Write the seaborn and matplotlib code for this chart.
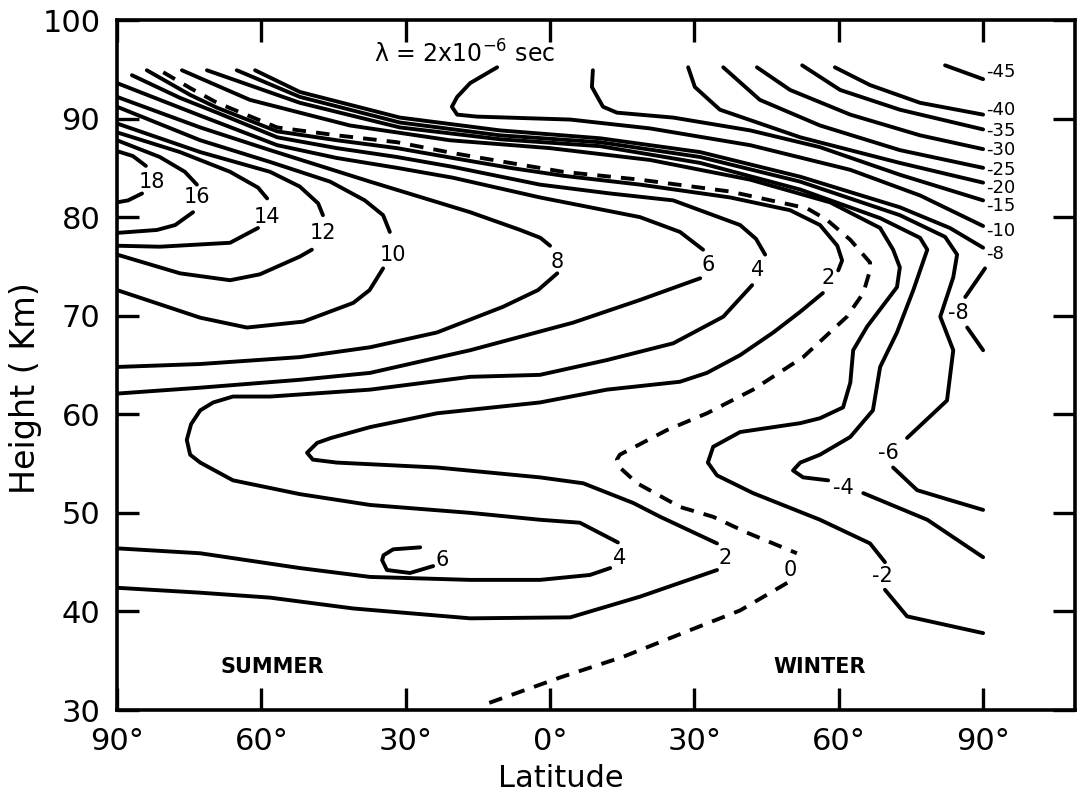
import matplotlib
matplotlib.use("Agg")
import matplotlib.pyplot as plt
import pandas as pd
import seaborn as sns

# ---------------- data: contour lines as (latitude, height km) ----------------
# latitude: negative = summer hemisphere, positive = winter hemisphere
C18 = [[(-90, 86.7), (-86.7, 86.2), (-84.0, 85.2)],
       [(-84.8, 82.4), (-87.7, 81.7), (-90, 81.5)]]
C16 = [[(-90, 87.8), (-81.1, 86.1), (-75.9, 84.6), (-73.4, 83.3)],
       [(-74.2, 80.5), (-77.9, 79.2), (-81.7, 78.7), (-90, 78.4)]]
C14 = [[(-90, 88.6), (-76.9, 86.6), (-66.5, 84.6), (-60.7, 83.0), (-58.8, 81.9)],
       [(-60.7, 78.9), (-66.5, 77.4), (-81.1, 77.0), (-90, 77.1)]]
C12 = [[(-90, 89.5), (-72.7, 86.6), (-58.2, 84.6), (-52.0, 83.1), (-48.2, 81.4), (-47.2, 80.2)],
       [(-49.5, 76.7), (-52.0, 76.0), (-60.3, 74.2), (-66.5, 73.6), (-76.9, 74.3), (-90, 76.2)]]
C10 = [[(-90, 91.2), (-72.7, 87.8), (-58.2, 85.6), (-45.7, 83.6), (-38.5, 81.7), (-34.7, 80.2), (-33.3, 78.5)],
       [(-34.7, 74.8), (-37.5, 72.6), (-40.9, 71.3), (-51.3, 69.4), (-63.0, 68.8), (-72.7, 69.8), (-90, 72.6)]]
C8 = [[(-90, 92.2), (-72.7, 89.1), (-58.2, 86.8), (-37.4, 83.6), (-16.6, 80.5), (-6.2, 78.7), (-2.0, 77.9),
       (0, 77.1)],
      [(1.5, 74.3), (-2.5, 72.6), (-9.8, 70.9), (-23.5, 68.3), (-37.4, 66.8), (-52.0, 65.8), (-72.7, 65.1),
       (-90, 64.8)]]
C6 = [[(-90, 93.6), (-72.7, 90.3), (-56.7, 87.3), (-44.3, 86.0), (-31.8, 85.0), (-20.2, 84.0), (-2.1, 82.0),
       (18.7, 80.0), (27.0, 78.5), (31.8, 76.7)],
      [(31.2, 73.8), (18.7, 71.6), (4.8, 69.3), (-16.6, 66.5), (-37.4, 64.2), (-52.0, 63.5), (-72.7, 62.7),
       (-90, 62.1)]]
C6_LOOP = [[(-27.0, 46.5), (-32.6, 46.3), (-34.6, 45.7), (-34.9, 45.2), (-33.9, 44.2), (-29.1, 43.9),
            (-24.3, 44.6)]]
C4 = [[(-86.9, 94.4), (-76.9, 92.1), (-69.2, 90.6), (-56.7, 88.1), (-44.3, 87.0), (-31.8, 86.1), (-20.2, 85.1),
       (-2.1, 83.3), (12.5, 82.4), (25.6, 81.7), (39.5, 79.2), (42.8, 77.8), (44.7, 76.2)],
      [(42.0, 73.1), (36.0, 69.9), (25.6, 67.2), (11.8, 65.5), (-2.1, 64.0), (-16.6, 63.8), (-37.4, 62.5),
       (-58.2, 61.8), (-65.9, 61.8), (-70.0, 61.2), (-72.7, 60.4), (-74.6, 59.0), (-75.5, 57.4), (-74.8, 55.9),
       (-72.7, 55.1), (-65.9, 53.3), (-52.0, 51.9), (-37.4, 50.8), (-16.6, 50.0), (-2.1, 49.3), (6.2, 49.0),
       (14.1, 47.0)],
      [(12.5, 44.4), (8.3, 43.7), (-2.1, 43.2), (-16.6, 43.2), (-37.4, 43.5), (-52.0, 44.4), (-72.7, 45.9),
       (-90, 46.4)]]
C2 = [[(-83.8, 94.9), (-74.8, 92.4), (-69.2, 91.1), (-56.7, 88.7), (-44.3, 87.8), (-31.8, 87.0), (-20.2, 86.0),
       (-8.3, 85.0), (2.7, 84.2), (18.7, 83.3), (37.4, 82.0), (49.9, 80.7), (56.1, 79.2), (59.7, 77.1),
       (60.7, 75.6), (59.9, 74.6)],
      [(56.7, 72.3), (52.0, 70.4), (46.4, 68.3), (39.5, 66.0), (32.6, 64.2), (27.0, 63.3), (11.8, 62.5),
       (-2.1, 61.2), (-23.5, 60.1), (-37.4, 58.7), (-45.5, 57.6), (-48.4, 57.1), (-50.5, 56.1), (-49.3, 55.4),
       (-44.3, 55.1), (-23.5, 54.6), (-2.1, 53.6), (6.9, 53.0), (17.3, 51.0), (22.9, 49.6), (34.7, 46.9)],
      [(34.7, 44.2), (18.7, 41.5), (4.2, 39.4), (-16.6, 39.3), (-40.9, 40.3), (-58.2, 41.4), (-72.7, 41.9),
       (-90, 42.4)]]
C0 = [[(-80.4, 94.7), (-74.8, 93.1), (-69.2, 91.6), (-56.7, 89.1), (-44.3, 88.3), (-31.8, 87.6), (-20.2, 86.5),
       (-8.3, 85.5), (2.7, 84.6), (18.7, 83.8), (37.4, 82.6), (53.4, 80.9), (57.6, 79.7), (62.4, 77.7),
       (66.5, 75.4), (66.5, 74.6), (65.1, 72.3), (61.7, 69.9), (52.6, 65.8), (42.2, 62.5), (32.6, 60.1),
       (24.3, 58.4), (14.5, 55.9), (13.9, 55.4), (14.5, 54.6), (18.1, 53.0), (27.0, 50.6), (33.9, 49.6),
       (40.9, 48.0), (51.3, 45.9)],
      [(49.3, 42.9), (39.5, 40.1), (29.1, 38.1), (15.2, 35.4), (2.1, 33.3), (-14.5, 30.4)]]
CM2 = [[(-76.5, 94.9), (-62.4, 91.9), (-41.6, 89.3), (-20.8, 87.8), (0, 87.0), (20.8, 85.8), (41.6, 83.8),
        (58.2, 81.5), (68.6, 78.9), (71.3, 76.7), (72.7, 74.9), (72.1, 72.9), (65.9, 68.9), (63.0, 66.5),
        (62.4, 63.2), (60.9, 60.7), (56.1, 59.6), (52.0, 59.1), (39.5, 58.2), (33.9, 56.7), (32.8, 55.1),
        (34.7, 53.8), (42.2, 52.0), (56.1, 49.3), (66.5, 46.9), (69.6, 45.0)],
       [(69.6, 42.2), (74.2, 39.5), (90, 37.8)]]
CM4 = [[(-71.3, 94.9), (-52.0, 91.6), (-31.2, 89.1), (-10.4, 87.9), (10.4, 87.2), (31.2, 85.5), (52.0, 82.8),
        (68.6, 79.9), (76.9, 77.9), (78.4, 76.7), (75.5, 72.6), (72.1, 68.3), (68.6, 64.8), (67.1, 60.4),
        (62.4, 57.7), (56.1, 55.9), (52.0, 55.1), (50.5, 54.3), (52.6, 53.6), (57.8, 53.3)],
       [(65.1, 52.0), (78.4, 49.3), (90, 45.5)]]
CM6 = [[(-65.1, 94.9), (-52.0, 92.2), (-31.2, 89.6), (-10.4, 88.3), (10.4, 87.6), (31.2, 86.1), (52.0, 83.6),
        (72.7, 80.2), (82.1, 78.0), (84.6, 76.2), (83.8, 73.9), (81.1, 69.9), (83.8, 66.5), (82.5, 61.4),
        (74.2, 57.6)],
       [(71.3, 54.6), (76.3, 52.3), (83.1, 51.3), (90, 50.3)]]
CM8 = [[(-61.3, 94.9), (-52.0, 92.7), (-31.2, 90.1), (-10.4, 88.8), (10.4, 88.0), (31.2, 86.6), (52.0, 84.1),
        (72.7, 81.0), (83.1, 78.9), (90, 76.9)]]
CM8_TONGUE = [[(90.4, 74.8), (86.3, 71.9)], [(86.7, 68.8), (90, 66.5)]]
CM10 = [[(-11.0, 95.2), (-16.6, 93.6), (-19.3, 92.2), (-20.4, 91.2), (-19.3, 90.4), (-15.2, 90.2), (4.2, 89.9),
         (20.8, 89.0), (41.6, 87.3), (62.4, 84.8), (76.9, 82.2), (90, 79.1)]]
CM15 = [[(8.9, 94.9), (8.7, 93.2), (11.0, 91.2), (13.9, 90.6), (25.6, 90.1), (41.6, 88.8), (56.1, 87.1),
         (72.7, 84.3), (90, 81.7)]]
CM20 = [[(28.7, 95.2), (30.1, 93.2), (35.3, 90.9), (52.0, 88.1), (72.7, 85.5), (90, 83.5)]]
CM25 = [[(36.0, 95.2), (43.6, 91.9), (56.1, 89.3), (72.7, 86.8), (90, 85.0)]]
CM30 = [[(43.0, 95.2), (49.9, 92.9), (62.4, 90.4), (76.9, 88.3), (90, 86.9)]]
CM35 = [[(52.4, 95.4), (60.3, 92.9), (72.7, 90.9), (90, 88.9)]]
CM40 = [[(59.2, 95.2), (66.5, 93.4), (76.9, 91.6), (90, 90.4)]]
CM45 = [[(82.1, 95.4), (90, 94.0)]]

SOLID_CONTOURS = [C18, C16, C14, C12, C10, C8, C6, C6_LOOP, C4, C2, CM2, CM4, CM6, CM8, CM8_TONGUE,
                  CM10, CM15, CM20, CM25, CM30, CM35, CM40, CM45]
DASHED_CONTOURS = [C0]

# inline contour labels: (text, latitude, height)
INLINE_LABELS = [("18", -82.7, 83.6), ("16", -73.4, 82.0), ("14", -58.8, 80.0), ("12", -47.2, 78.4),
                 ("10", -32.6, 76.2), ("8", 1.5, 75.5), ("6", 32.8, 75.1), ("4", 43.2, 74.6),
                 ("2", 57.8, 73.8), ("6", -22.4, 45.2), ("4", 14.5, 45.4), ("2", 36.4, 45.4),
                 ("0", 49.9, 44.2), ("-2", 69.0, 43.6), ("-4", 60.9, 52.5), ("-6", 70.3, 56.1),
                 ("-8", 84.8, 70.3)]
# labels at the right-hand ends of the upper contours
EDGE_LABELS = [("-45", 94.7), ("-40", 90.9), ("-35", 88.7), ("-30", 86.8), ("-25", 84.8),
               ("-20", 83.0), ("-15", 81.1), ("-10", 78.6), ("-8", 76.3)]

X_TICKS = [-90, -60, -30, 0, 30, 60, 90]
X_TICK_LABELS = ["90°", "60°", "30°", "0°", "30°", "60°", "90°"]
Y_TICKS = [30, 40, 50, 60, 70, 80, 90, 100]

# ---------------- build table ----------------
rows = []
for kind, group in (("solid", SOLID_CONTOURS), ("dashed", DASHED_CONTOURS)):
    for ci, contour in enumerate(group):
        for si, seg in enumerate(contour):
            for lat, h in seg:
                rows.append((lat, h, f"{kind}{ci}_{si}", kind))
df = pd.DataFrame(rows, columns=["lat", "height", "seg", "kind"])

sns.set_theme(style="ticks")
plt.rcParams["font.family"] = ["DejaVu Sans"]
plt.rcParams["text.color"] = "black"
plt.rcParams["axes.labelcolor"] = "black"
plt.rcParams["xtick.color"] = "black"
plt.rcParams["ytick.color"] = "black"
plt.rcParams["axes.edgecolor"] = "black"

fig = plt.figure(figsize=(10.77, 7.93), dpi=100)
ax = fig.add_axes([117 / 1077, 83 / 793, 958 / 1077, 690 / 793])

sns.lineplot(data=df, x="lat", y="height", units="seg", estimator=None, sort=False,
             style="kind", style_order=["solid", "dashed"],
             dashes={"solid": "", "dashed": (3.5, 2.6)},
             color="black", linewidth=2.8, legend=False, ax=ax,
             solid_capstyle="round", solid_joinstyle="round", dash_capstyle="butt")

ax.set_xlim(-90, 109.1)
ax.set_ylim(30, 100)
ax.set_xticks(X_TICKS)
ax.set_xticklabels(X_TICK_LABELS)
ax.set_yticks(Y_TICKS)
ax.set_yticklabels([str(v) for v in Y_TICKS])
ax.tick_params(direction="in", length=16, width=2.4, top=True, right=True,
               labelsize=22, colors="black", labelcolor="black")
ax.tick_params(axis="x", pad=12)
ax.tick_params(axis="y", pad=12)
for s in ax.spines.values():
    s.set_linewidth(2.6)
    s.set_color("black")
ax.set_xlabel("")
ax.set_ylabel("")

for txt, lat, h in INLINE_LABELS:
    ax.text(lat, h, txt, fontsize=15, ha="center", va="center", color="black")
for txt, h in EDGE_LABELS:
    ax.text(90.6, h, txt, fontsize=13, ha="left", va="center", color="black")

ax.text(-57.8, 34.4, "SUMMER", fontsize=15, fontweight="bold", ha="center", va="center", color="black")
ax.text(56.1, 34.4, "WINTER", fontsize=15, fontweight="bold", ha="center", va="center", color="black")
ax.text(-36.5, 95.7, "λ = 2x10$^{-6}$ sec", fontsize=17, ha="left", va="baseline", color="black")

fig.text(561 / 1077, 1 - 787 / 793, "Latitude", fontsize=22, ha="center", va="baseline", color="black")
fig.text(35 / 1077, 1 - 388 / 793, "Height ( Km)", fontsize=24, rotation=90,
         rotation_mode="anchor", ha="center", va="baseline", color="black")

fig.savefig("out.png", dpi=100, facecolor="white")
